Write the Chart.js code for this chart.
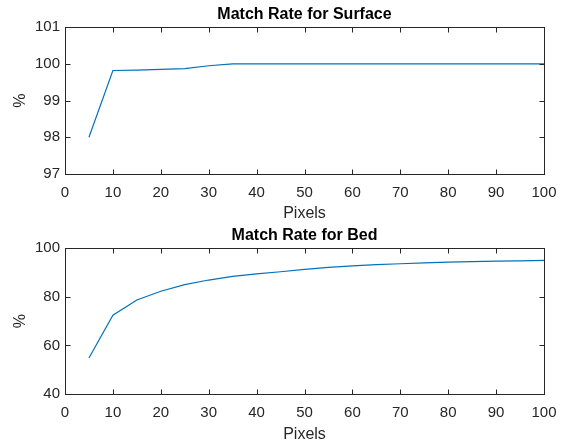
<!DOCTYPE html>
<html>
<head>
<meta charset="utf-8">
<script src="https://cdn.jsdelivr.net/npm/chart.js@4"></script>
<style>
  body { margin: 0; background: #fff; }
  canvas { display: block; }
</style>
</head>
<body>
<canvas id="graficoSurface" width="561" height="221"></canvas>
<canvas id="graficoBed" width="561" height="221"></canvas>
<script>
// dados
const pixels = [5, 10, 15, 20, 25, 30, 35, 40, 45, 50, 55, 60, 65, 70, 75, 80, 85, 90, 95, 100];
const surfaceRate = [98.0, 99.82, 99.83, 99.85, 99.87, 99.95, 100, 100, 100, 100, 100, 100, 100, 100, 100, 100, 100, 100, 100, 100];
const bedRate = [54.8, 72.4, 78.7, 82.3, 85.0, 86.9, 88.4, 89.4, 90.3, 91.3, 92.1, 92.7, 93.2, 93.6, 94.0, 94.3, 94.5, 94.7, 94.8, 95.0];
const xTicks = [0, 10, 20, 30, 40, 50, 60, 70, 80, 90, 100];
const surfaceTicks = [97, 98, 99, 100, 101];
const bedTicks = [40, 60, 80, 100];

const corEixo = '#262626';
const corLinha = '#0072BD';
const fonte = 'Liberation Sans, Arial, sans-serif';

// caixa e marcas de escala para dentro (estilo MATLAB)
const caixaPlugin = {
    id: 'caixa',
    afterDraw(chart) {
        const ctx = chart.ctx;
        const a = chart.chartArea;
        const L = Math.round(a.left) + 0.5, R = Math.round(a.right) + 0.5;
        const T = Math.round(a.top) + 0.5, B = Math.round(a.bottom) + 0.5;
        ctx.save();
        ctx.strokeStyle = corEixo;
        ctx.lineWidth = 1;
        ctx.strokeRect(L, T, R - L, B - T);
        ctx.beginPath();
        chart.scales.x.ticks.forEach(t => {
            const px = Math.round(chart.scales.x.getPixelForValue(t.value)) + 0.5;
            ctx.moveTo(px, B); ctx.lineTo(px, B - 5);
            ctx.moveTo(px, T); ctx.lineTo(px, T + 5);
        });
        chart.scales.y.ticks.forEach(t => {
            const py = Math.round(chart.scales.y.getPixelForValue(t.value)) + 0.5;
            ctx.moveTo(L, py); ctx.lineTo(L + 5, py);
            ctx.moveTo(R, py); ctx.lineTo(R - 5, py);
        });
        ctx.stroke();
        ctx.restore();
    }
};

function criarGrafico(id, titulo, valores, yTicks, alturaX) {
    return new Chart(document.getElementById(id).getContext('2d'), {
        type: 'line',
        data: {
            datasets: [{
                data: pixels.map((p, i) => ({ x: p, y: valores[i] })),
                borderColor: corLinha,
                borderWidth: 1.2,
                pointRadius: 0,
                tension: 0,
                fill: false
            }]
        },
        options: {
            responsive: false,
            animation: false,
            layout: { padding: { left: 0, right: 17, top: 0, bottom: 0 } },
            plugins: {
                legend: { display: false },
                tooltip: { enabled: false },
                title: {
                    display: true,
                    text: titulo,
                    fullSize: false,
                    color: '#000',
                    font: { family: fonte, size: 16, weight: 'bold' },
                    padding: { top: 5, bottom: 3 }
                }
            },
            scales: {
                x: {
                    type: 'linear',
                    min: 0,
                    max: 100,
                    afterBuildTicks: s => { s.ticks = xTicks.map(v => ({ value: v })); },
                    grid: { display: false, drawTicks: false },
                    border: { display: false },
                    ticks: { color: corEixo, font: { family: fonte, size: 15 }, padding: 10, maxRotation: 0 },
                    title: { display: true, text: 'Pixels', color: corEixo, font: { family: fonte, size: 16 }, padding: { top: 0, bottom: -2 } },
                    afterFit: s => { s.height = alturaX; s.paddingLeft = 0; s.paddingRight = 0; }
                },
                y: {
                    min: yTicks[0],
                    max: yTicks[yTicks.length - 1],
                    afterBuildTicks: s => { s.ticks = yTicks.map(v => ({ value: v })); },
                    grid: { display: false, drawTicks: false },
                    border: { display: false },
                    ticks: { color: corEixo, font: { family: fonte, size: 15 }, padding: 5 },
                    title: { display: true, text: '%', color: corEixo, font: { family: fonte, size: 16 }, padding: { top: 11, bottom: 0 } },
                    afterFit: s => { s.width = 65; s.paddingTop = 0; s.paddingBottom = 0; }
                }
            }
        },
        plugins: [caixaPlugin]
    });
}

criarGrafico('graficoSurface', 'Match Rate for Surface', surfaceRate, surfaceTicks, 47);
criarGrafico('graficoBed', 'Match Rate for Bed', bedRate, bedTicks, 48);
</script>
</body>
</html>
